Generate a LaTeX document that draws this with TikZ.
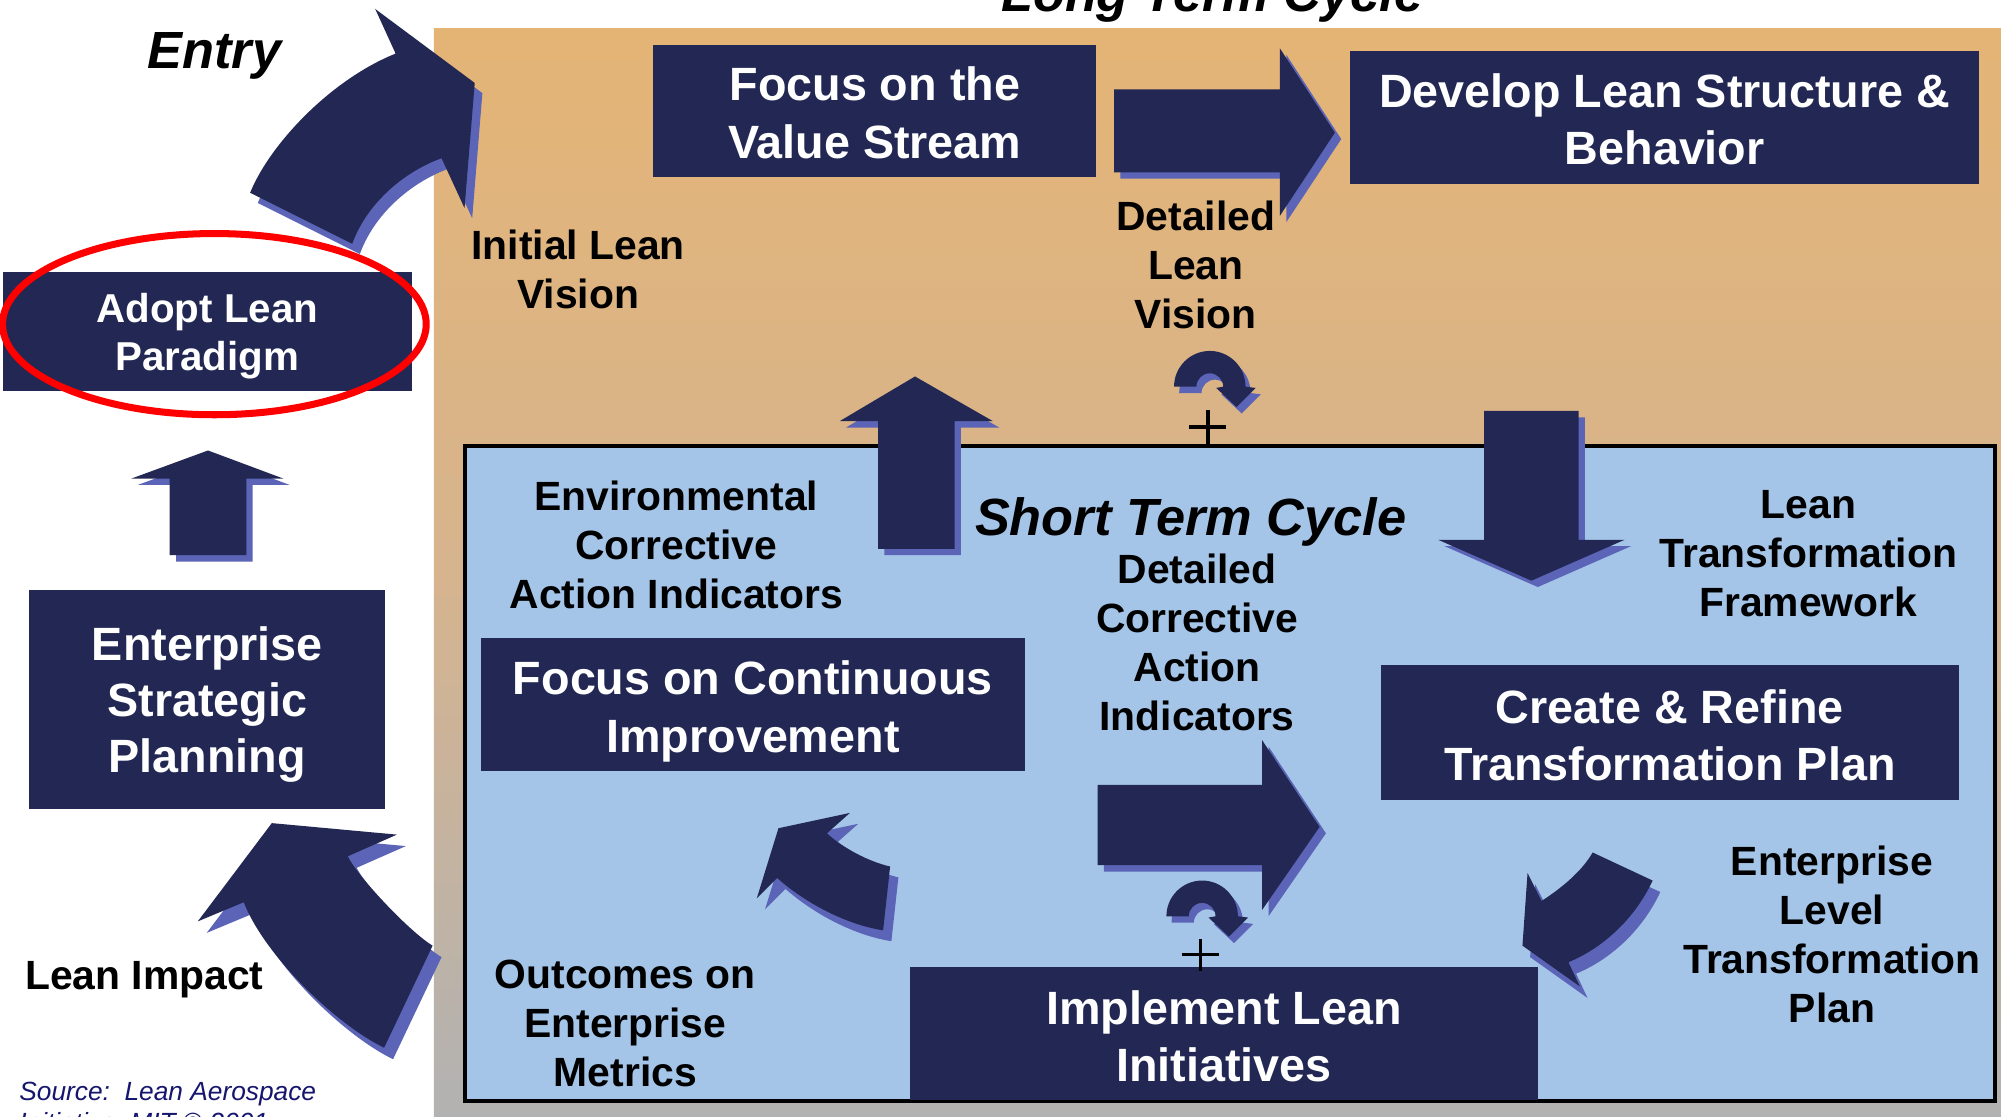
\documentclass[tikz,border=0pt]{standalone}
\usepackage{fontspec}
\setmainfont{Liberation Sans}
\definecolor{navy}{HTML}{222853}
\definecolor{shd}{HTML}{5B64B6}
\definecolor{lblue}{HTML}{A4C5E8}
\definecolor{ltop}{HTML}{E4B475}
\definecolor{lmid}{HTML}{D6B48E}
\definecolor{lbot}{HTML}{B2B2B2}
\definecolor{srcblue}{HTML}{16166E}
\newcommand\dualfill[2]{\fill[shd,shift={#1}] #2; \fill[navy] #2;}
\newcommand\turnarrow[1]{%
  \dualfill{(4,5)}{[shift={#1}] (-28,0) arc[start angle=180,end angle=360,radius=28] -- (36,1) -- (21,16) -- (5,1) -- (10.5,0) arc[start angle=360,end angle=180,radius=10.5] -- cycle}}
\begin{document}
\begin{tikzpicture}[x=1pt,y=-1pt,
  boxfill/.style={fill=navy, inner sep=0pt},
  boxtext/.style={text=white, font=\fontsize{36.6}{45}\selectfont\bfseries, align=center, inner sep=0pt},
  lbl/.style={text=black, font=\fontsize{32}{38.5}\selectfont\bfseries, align=center, inner sep=0pt},
  ttl/.style={text=black, font=\fontsize{41}{49}\selectfont\bfseries\itshape, inner sep=0pt},
  src/.style={text=srcblue, font=\fontsize{20.6}{25}\selectfont\itshape, inner sep=0pt},
  plus/.style={draw=black, line width=2.6pt}]
\useasboundingbox (0,0) rectangle (1568,875);
\clip (0,0) rectangle (1568,875);
\fill[white] (0,0) rectangle (1568,875);
\shade[top color=ltop, bottom color=lbot, middle color=lmid] (340,22) rectangle (1568,875);
% short term frame
\node[draw=black, line width=3pt, fill=lblue, minimum width=1199pt, minimum height=513pt, inner sep=0pt, anchor=north west] (stframe) at (363,348) {};
% boxes
\node[boxfill, minimum width=347pt, minimum height=104pt] (fvs) at (685.5,87) {};
\node[boxtext] (fvst) at (685.5,88.5) {Focus on the\\Value Stream};
\node[boxfill, minimum width=493pt, minimum height=104pt] (dls) at (1304.5,92) {};
\node[boxtext] (dlst) at (1304.5,93.5) {Develop Lean Structure \&\\Behavior};
\node[boxfill, minimum width=321pt, minimum height=93pt] (alp) at (162.5,259.5) {};
\node[boxtext, font=\fontsize{31.6}{38}\selectfont\bfseries] (alpt) at (162.5,263.5) {Adopt Lean\\Paradigm};
\node[boxfill, minimum width=279pt, minimum height=172pt] (esp) at (162.5,548) {};
\node[boxtext, font=\fontsize{36.6}{44}\selectfont\bfseries] (espt) at (162.5,552) {Enterprise\\Strategic\\Planning};
\node[boxfill, minimum width=426pt, minimum height=104pt] (fci) at (590,552) {};
\node[boxtext] (fcit) at (590,557.5) {Focus on Continuous\\Improvement};
\node[boxfill, minimum width=453pt, minimum height=106pt] (crt) at (1308.5,574) {};
\node[boxtext] (crtt) at (1308.5,576) {Create \& Refine\\Transformation Plan};
\node[boxfill, minimum width=492pt, minimum height=104pt] (ili) at (959,810) {};
\node[boxtext] (ilit) at (959,812) {Implement Lean\\Initiatives};
% labels
\node[lbl] (ilv) at (453,211) {Initial Lean\\Vision};
\node[lbl] (dlv) at (937,207.5) {Detailed\\Lean\\Vision};
\node[lbl] (eca) at (530,427) {Environmental\\Corrective\\Action Indicators};
\node[ttl] (stl) at (933,409) {Short Term Cycle};
\node[lbl] (dca) at (938,503.5) {Detailed\\Corrective\\Action\\Indicators};
\node[lbl] (ltf) at (1417,434) {Lean\\Transformation\\Framework};
\node[lbl] (elt) at (1435.5,732) {Enterprise\\Level\\Transformation\\Plan};
\node[lbl] (oem) at (490,802) {Outcomes on\\Enterprise\\Metrics};
\node[lbl] (lim) at (113,768) {Lean Impact};
\node[ttl] (ent) at (168,44) {Entry};
\node[ttl, anchor=base] (ltc) at (950,9) {Long Term Cycle};
\node[src, anchor=base west] (src1) at (15,862) {Source:\ \ Lean Aerospace};
\node[src, anchor=base west] (src2) at (15,887) {Initiative, MIT © 2001};
% straight block arrows
\dualfill{(5,5)}{(873,70) -- (1003,70) -- (1003,38) -- (1046,104) -- (1003,169) -- (1003,135) -- (873,135) -- cycle}
\dualfill{(5,5)}{(860,615) -- (989,615) -- (989,580) -- (1034,648) -- (989,713) -- (989,678) -- (860,678) -- cycle}
\dualfill{(5,5)}{(688,430) -- (688,330) -- (658,330) -- (717,295) -- (778,330) -- (748,330) -- (748,430) -- cycle}
\dualfill{(5,5)}{(1163,322) -- (1237,322) -- (1237,423) -- (1273,423) -- (1200,455) -- (1127,423) -- (1163,423) -- cycle}
\dualfill{(5,5)}{(133,435) -- (133,375) -- (103,375) -- (163,353) -- (222,375) -- (193,375) -- (193,435) -- cycle}
% curved arrows
\dualfill{(6,8)}{(196,151) .. controls (212,112) and (260,62) .. (310,42) -- (294,7) -- (372,65) -- (364,163) -- (346,124) .. controls (318,134) and (288,158) .. (276,191) -- cycle}
\dualfill{(7,9)}{(213,645) -- (311,654) -- (272.5,671) .. controls (281,688) and (322,731) .. (339,741) -- (301,821) .. controls (262,802) and (207,748) .. (191,707) -- (155,722) -- cycle}
\dualfill{(6.5,8.5)}{(610,649) -- (666,637) -- (648,653) .. controls (660,664) and (680,675) .. (697.5,679) -- (692,729) .. controls (660,724) and (628,705) .. (609,688) -- (593,704) -- cycle}
\dualfill{(6,9)}{(1248,668) -- (1295,690) .. controls (1282,718) and (1258,742) .. (1229,754) -- (1238,773) -- (1193,741) -- (1197,684) -- (1208,706) .. controls (1225,695) and (1240,682) .. (1248,668) -- cycle}
% turn arrows and plus signs
\turnarrow{(948,303)}
\turnarrow{(942,718)}
\coordinate (p1) at (946.5,334.5);
\coordinate (p2) at (940.5,748);
\draw[plus] ([yshift=-14pt]p1) -- ([yshift=13pt]p1) ([xshift=-14.5pt]p1) -- ([xshift=14.5pt]p1);
\draw[plus] ([yshift=-13pt]p2) -- ([yshift=12pt]p2) ([xshift=-14.5pt]p2) -- ([xshift=14.5pt]p2);
% red ellipse
\draw[red, line width=5.5pt] (168,254) ellipse [x radius=166, y radius=71];
\end{tikzpicture}
\end{document}
